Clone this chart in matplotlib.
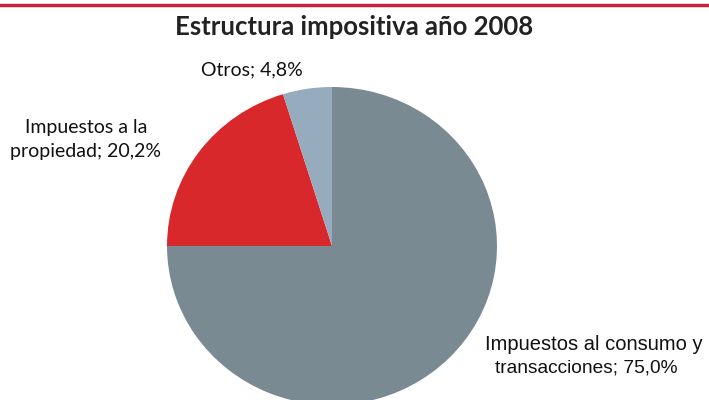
import matplotlib.pyplot as plt
from matplotlib.lines import Line2D

labels = ["Impuestos al consumo y\ntransacciones; 75,0%",
          "Impuestos a la\npropiedad; 20,2%",
          "Otros; 4,8%"]
values = [75.0, 20.2, 4.8]
colors = ["#7A8A92", "#D9282B", "#97ABBE"]

W, H = 709, 400
fig = plt.figure(figsize=(W / 100, H / 100), dpi=100)

# pie centre ~ (332, 246) px from top, slightly squashed (rx 165, ry 159)
cx, cy, rx, ry = 332, 246, 165, 159
ax = fig.add_axes([(cx - rx) / W, (H - cy - ry) / H, 2 * rx / W, 2 * ry / H])
ax.pie(values, colors=colors, startangle=90, counterclock=False,
       radius=1, wedgeprops=dict(linewidth=0))
ax.set_aspect("auto")
ax.set_xlim(-1, 1)
ax.set_ylim(-1, 1)
ax.axis("off")

# red rule at the top
fig.add_artist(Line2D([0, 1], [1 - 5 / H, 1 - 5 / H], color="#C8203F",
                      linewidth=2.5, transform=fig.transFigure))

fig.text(354 / W, 1 - 27 / H, "Estructura impositiva año 2008",
         ha="center", va="center", fontsize=18.5, fontweight="bold",
         family="Lato", color="#222222")

def px(x, y):
    return x / W, 1 - y / H

fig.text(*px(252, 70), labels[2], ha="center", va="center",
         fontsize=14, family="Lato", color="#111111")
fig.text(*px(86, 140), labels[1], ha="center", va="center",
         fontsize=14, family="Lato", color="#111111", linespacing=1.5)

# the two lines of this label are not centred on each other in the original
line1, line2 = labels[0].split("\n")
fig.text(*px(594, 345), line1, ha="center", va="center",
         fontsize=14.5, family="Liberation Sans", color="#111111")
fig.text(*px(586, 368), line2, ha="center", va="center",
         fontsize=13.8, family="Liberation Sans", color="#111111")

fig.savefig("out.png", dpi=100)
